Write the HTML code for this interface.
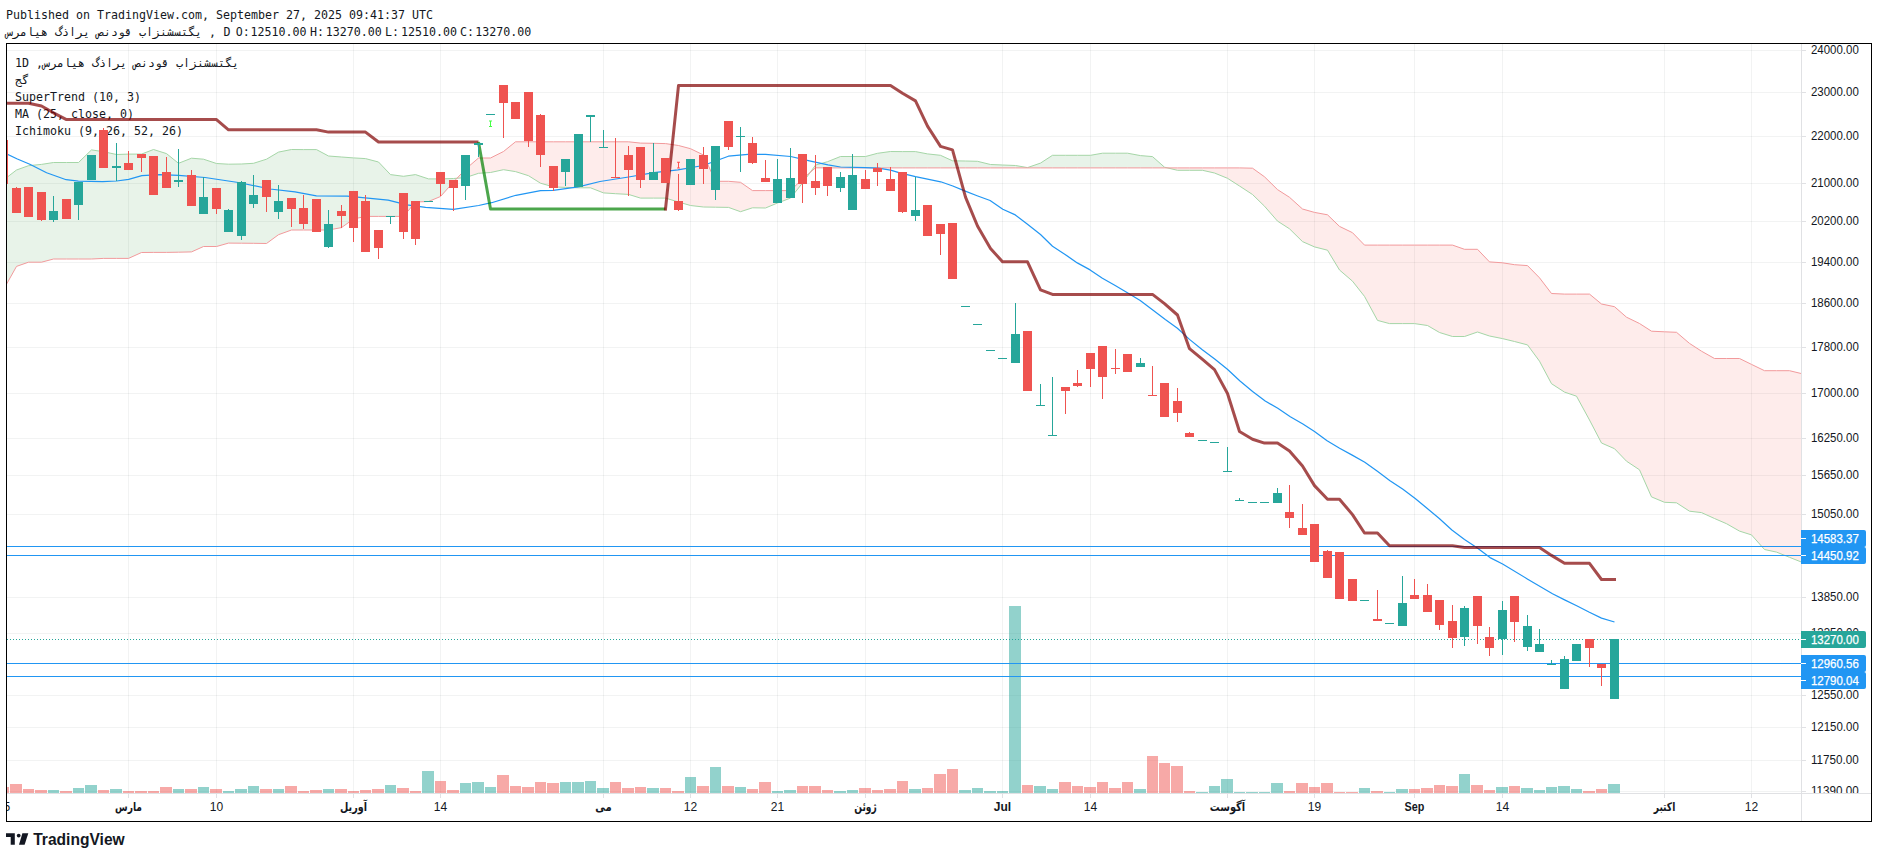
<!DOCTYPE html>
<html><head><meta charset="utf-8"><title>TradingView chart</title>
<style>
html,body{margin:0;padding:0;background:#fff;width:1878px;height:858px;overflow:hidden}
.l0,.l2{position:absolute;left:0;top:0}
.l0{z-index:0} .l2{z-index:2}
.mono{position:absolute;font-family:"DejaVu Sans Mono","Liberation Mono",monospace;font-size:11.63px;color:#131722;white-space:pre;line-height:17px;z-index:1;direction:ltr}
</style></head><body>
<div class="mono" style="left:6px;top:7px">Published on TradingView.com, September 27, 2025 09:41:37 UTC</div>
<div class="mono" style="left:6px;top:24px"><span dir="rtl">یگتسشنزاب قودنص یراذگ هیامرس</span> ,</div>
<div class="mono" style="left:223.5px;top:24px">D</div>
<div class="mono" style="left:235.7px;top:24px">O:</div><div class="mono" style="left:250.6px;top:24px">12510.00</div>
<div class="mono" style="left:310.1px;top:24px">H:</div><div class="mono" style="left:325.8px;top:24px">13270.00</div>
<div class="mono" style="left:384.9px;top:24px">L:</div><div class="mono" style="left:401px;top:24px">12510.00</div>
<div class="mono" style="left:460.1px;top:24px">C:</div><div class="mono" style="left:475.3px;top:24px">13270.00</div>
<svg class="l0" width="1878" height="858" shape-rendering="crispEdges"><rect x="7" y="50" width="1794" height="1" fill="rgba(42,46,57,0.06)"/><rect x="7" y="92" width="1794" height="1" fill="rgba(42,46,57,0.06)"/><rect x="7" y="136" width="1794" height="1" fill="rgba(42,46,57,0.06)"/><rect x="7" y="183" width="1794" height="1" fill="rgba(42,46,57,0.06)"/><rect x="7" y="221" width="1794" height="1" fill="rgba(42,46,57,0.06)"/><rect x="7" y="262" width="1794" height="1" fill="rgba(42,46,57,0.06)"/><rect x="7" y="303" width="1794" height="1" fill="rgba(42,46,57,0.06)"/><rect x="7" y="347" width="1794" height="1" fill="rgba(42,46,57,0.06)"/><rect x="7" y="393" width="1794" height="1" fill="rgba(42,46,57,0.06)"/><rect x="7" y="438" width="1794" height="1" fill="rgba(42,46,57,0.06)"/><rect x="7" y="475" width="1794" height="1" fill="rgba(42,46,57,0.06)"/><rect x="7" y="514" width="1794" height="1" fill="rgba(42,46,57,0.06)"/><rect x="7" y="555" width="1794" height="1" fill="rgba(42,46,57,0.06)"/><rect x="7" y="597" width="1794" height="1" fill="rgba(42,46,57,0.06)"/><rect x="7" y="633" width="1794" height="1" fill="rgba(42,46,57,0.06)"/><rect x="7" y="663" width="1794" height="1" fill="rgba(42,46,57,0.06)"/><rect x="7" y="695" width="1794" height="1" fill="rgba(42,46,57,0.06)"/><rect x="7" y="727" width="1794" height="1" fill="rgba(42,46,57,0.06)"/><rect x="7" y="760" width="1794" height="1" fill="rgba(42,46,57,0.06)"/><rect x="7" y="791" width="1794" height="1" fill="rgba(42,46,57,0.06)"/><rect x="128" y="44" width="1" height="749" fill="rgba(42,46,57,0.06)"/><rect x="216" y="44" width="1" height="749" fill="rgba(42,46,57,0.06)"/><rect x="353" y="44" width="1" height="749" fill="rgba(42,46,57,0.06)"/><rect x="440" y="44" width="1" height="749" fill="rgba(42,46,57,0.06)"/><rect x="603" y="44" width="1" height="749" fill="rgba(42,46,57,0.06)"/><rect x="690" y="44" width="1" height="749" fill="rgba(42,46,57,0.06)"/><rect x="777" y="44" width="1" height="749" fill="rgba(42,46,57,0.06)"/><rect x="865" y="44" width="1" height="749" fill="rgba(42,46,57,0.06)"/><rect x="1002" y="44" width="1" height="749" fill="rgba(42,46,57,0.06)"/><rect x="1090" y="44" width="1" height="749" fill="rgba(42,46,57,0.06)"/><rect x="1227" y="44" width="1" height="749" fill="rgba(42,46,57,0.06)"/><rect x="1314" y="44" width="1" height="749" fill="rgba(42,46,57,0.06)"/><rect x="1414" y="44" width="1" height="749" fill="rgba(42,46,57,0.06)"/><rect x="1502" y="44" width="1" height="749" fill="rgba(42,46,57,0.06)"/><rect x="1664" y="44" width="1" height="749" fill="rgba(42,46,57,0.06)"/><rect x="1751" y="44" width="1" height="749" fill="rgba(42,46,57,0.06)"/></svg>
<div class="mono" style="left:15px;top:55px">1D ,<span dir="rtl">یگتسشنزاب قودنص یراذگ هیامرس</span></div>
<div class="mono" style="left:15px;top:72px"><span dir="rtl">گج</span></div>
<div class="mono" style="left:15px;top:89px">SuperTrend (10, 3)</div>
<div class="mono" style="left:15px;top:106px">MA (25, close, 0)</div>
<div class="mono" style="left:15px;top:123px">Ichimoku (9, 26, 52, 26)</div>
<svg class="l2" width="1878" height="858"><defs><clipPath id="pane"><rect x="7" y="44" width="1794" height="749"/></clipPath><clipPath id="taxis"><rect x="7" y="794" width="1794" height="27"/></clipPath><clipPath id="paxis"><rect x="1802" y="44" width="69" height="749"/></clipPath></defs><g clip-path="url(#pane)"><path d="M3.50,180.00 L16.50,170.00 L16.50,266.40 L3.50,289.60ZM16.50,170.00 L28.50,165.70 L28.50,262.20 L16.50,266.40ZM28.50,165.70 L41.50,164.40 L41.50,262.20 L28.50,262.20ZM41.50,164.40 L53.50,162.50 L53.50,259.00 L41.50,262.20ZM53.50,162.50 L66.50,162.50 L66.50,259.00 L53.50,259.00ZM66.50,162.50 L78.50,162.50 L78.50,259.00 L66.50,259.00ZM78.50,162.50 L91.50,149.90 L91.50,259.00 L78.50,259.00ZM91.50,149.90 L103.50,151.70 L103.50,258.40 L91.50,259.00ZM103.50,151.70 L116.50,154.50 L116.50,258.40 L103.50,258.40ZM116.50,154.50 L128.50,154.10 L128.50,258.40 L116.50,258.40ZM128.50,154.10 L141.50,154.10 L141.50,252.50 L128.50,258.40ZM141.50,154.10 L153.50,149.50 L153.50,252.40 L141.50,252.50ZM153.50,149.50 L166.50,153.60 L166.50,252.40 L153.50,252.40ZM166.50,153.60 L178.50,163.30 L178.50,252.20 L166.50,252.40ZM178.50,163.30 L191.50,158.20 L191.50,251.90 L178.50,252.20ZM191.50,158.20 L203.50,159.20 L203.50,246.50 L191.50,251.90ZM203.50,159.20 L216.50,163.50 L216.50,246.50 L203.50,246.50ZM216.50,163.50 L228.50,164.20 L228.50,243.10 L216.50,246.50ZM228.50,164.20 L241.50,164.00 L241.50,243.20 L228.50,243.10ZM241.50,164.00 L253.50,163.30 L253.50,243.30 L241.50,243.20ZM253.50,163.30 L266.50,159.20 L266.50,243.50 L253.50,243.30ZM266.50,159.20 L278.50,152.10 L278.50,234.70 L266.50,243.50ZM278.50,152.10 L291.50,149.50 L291.50,230.00 L278.50,234.70ZM291.50,149.50 L303.50,149.60 L303.50,230.00 L291.50,230.00ZM303.50,149.60 L316.50,149.60 L316.50,230.00 L303.50,230.00ZM316.50,149.60 L328.50,156.00 L328.50,230.00 L316.50,230.00ZM328.50,156.00 L341.50,157.00 L341.50,227.60 L328.50,230.00ZM341.50,157.00 L353.50,157.90 L353.50,219.00 L341.50,227.60ZM353.50,157.90 L365.50,158.60 L365.50,216.40 L353.50,219.00ZM365.50,158.60 L378.50,162.00 L378.50,216.40 L365.50,216.40ZM378.50,162.00 L390.50,174.60 L390.50,216.40 L378.50,216.40ZM390.50,174.60 L403.50,176.30 L403.50,216.40 L390.50,216.40ZM403.50,176.30 L415.50,174.60 L415.50,202.00 L403.50,216.40ZM415.50,174.60 L428.50,178.90 L428.50,201.50 L415.50,202.00ZM428.50,178.90 L440.50,178.90 L440.50,196.50 L428.50,201.50ZM440.50,178.90 L453.50,178.50 L453.50,182.00 L440.50,196.50ZM453.50,178.50 L457.03,178.24 L453.50,182.00ZM810.26,172.31 L815.50,165.10 L815.50,167.80ZM815.50,165.10 L827.50,161.70 L827.50,167.90 L815.50,167.80ZM827.50,161.70 L840.50,156.50 L840.50,167.90 L827.50,167.90ZM840.50,156.50 L852.50,156.50 L852.50,167.90 L840.50,167.90ZM852.50,156.50 L865.50,156.50 L865.50,167.90 L852.50,167.90ZM865.50,156.50 L877.50,153.30 L877.50,167.90 L865.50,167.90ZM877.50,153.30 L890.50,151.50 L890.50,167.90 L877.50,167.90ZM890.50,151.50 L902.50,151.60 L902.50,167.90 L890.50,167.90ZM902.50,151.60 L915.50,151.60 L915.50,167.90 L902.50,167.90ZM915.50,151.60 L927.50,153.90 L927.50,167.90 L915.50,167.90ZM927.50,153.90 L940.50,155.30 L940.50,167.90 L927.50,167.90ZM940.50,155.30 L952.50,160.80 L952.50,167.90 L940.50,167.90ZM952.50,160.80 L965.50,161.00 L965.50,167.90 L952.50,167.90ZM965.50,161.00 L977.50,161.30 L977.50,167.90 L965.50,167.90ZM977.50,161.30 L990.50,164.50 L990.50,167.90 L977.50,167.90ZM990.50,164.50 L1002.50,165.00 L1002.50,167.90 L990.50,167.90ZM1002.50,165.00 L1015.50,165.50 L1015.50,167.90 L1002.50,167.90ZM1015.50,165.50 L1027.50,167.60 L1027.50,167.90 L1015.50,167.90ZM1027.50,167.60 L1040.50,163.10 L1040.50,167.90 L1027.50,167.90ZM1040.50,163.10 L1052.50,155.30 L1052.50,167.90 L1040.50,167.90ZM1052.50,155.30 L1065.50,155.30 L1065.50,167.90 L1052.50,167.90ZM1065.50,155.30 L1077.50,155.30 L1077.50,167.90 L1065.50,167.90ZM1077.50,155.30 L1090.50,155.30 L1090.50,167.90 L1077.50,167.90ZM1090.50,155.30 L1102.50,153.20 L1102.50,167.90 L1090.50,167.90ZM1102.50,153.20 L1115.50,153.20 L1115.50,167.90 L1102.50,167.90ZM1115.50,153.20 L1127.50,153.20 L1127.50,167.90 L1115.50,167.90ZM1127.50,153.20 L1140.50,155.60 L1140.50,167.90 L1127.50,167.90ZM1140.50,155.60 L1152.50,156.60 L1152.50,167.90 L1140.50,167.90ZM1152.50,156.60 L1164.50,167.20 L1164.50,167.90 L1152.50,167.90ZM1164.50,167.20 L1167.44,167.90 L1164.50,167.90Z" fill="rgba(67,160,71,0.12)" stroke="none"/><path d="M457.03,178.24 L465.50,177.60 L465.50,169.20ZM465.50,177.60 L478.50,173.30 L478.50,158.00 L465.50,169.20ZM478.50,173.30 L490.50,172.50 L490.50,158.00 L478.50,158.00ZM490.50,172.50 L503.50,169.70 L503.50,151.50 L490.50,158.00ZM503.50,169.70 L515.50,171.60 L515.50,141.80 L503.50,151.50ZM515.50,171.60 L528.50,175.70 L528.50,141.80 L515.50,141.80ZM528.50,175.70 L540.50,183.20 L540.50,141.80 L528.50,141.80ZM540.50,183.20 L553.50,186.90 L553.50,141.80 L540.50,141.80ZM553.50,186.90 L565.50,187.40 L565.50,141.80 L553.50,141.80ZM565.50,187.40 L578.50,187.80 L578.50,141.80 L565.50,141.80ZM578.50,187.80 L590.50,187.80 L590.50,141.80 L578.50,141.80ZM590.50,187.80 L603.50,192.90 L603.50,141.80 L590.50,141.80ZM603.50,192.90 L615.50,193.70 L615.50,141.80 L603.50,141.80ZM615.50,193.70 L628.50,194.40 L628.50,141.80 L615.50,141.80ZM628.50,194.40 L640.50,198.10 L640.50,143.10 L628.50,141.80ZM640.50,198.10 L653.50,198.10 L653.50,143.30 L640.50,143.10ZM653.50,198.10 L665.50,198.10 L665.50,143.60 L653.50,143.30ZM665.50,198.10 L678.50,202.00 L678.50,145.50 L665.50,143.60ZM678.50,202.00 L690.50,205.50 L690.50,148.70 L678.50,145.50ZM690.50,205.50 L703.50,207.00 L703.50,155.00 L690.50,148.70ZM703.50,207.00 L715.50,207.20 L715.50,181.30 L703.50,155.00ZM715.50,207.20 L728.50,207.40 L728.50,181.30 L715.50,181.30ZM728.50,207.40 L740.50,211.70 L740.50,182.30 L728.50,181.30ZM740.50,211.70 L752.50,207.80 L752.50,190.60 L740.50,182.30ZM752.50,207.80 L765.50,208.00 L765.50,190.60 L752.50,190.60ZM765.50,208.00 L777.50,203.00 L777.50,190.60 L765.50,190.60ZM777.50,203.00 L790.50,198.10 L790.50,190.60 L777.50,190.60ZM790.50,198.10 L802.50,183.00 L802.50,179.00 L790.50,190.60ZM802.50,183.00 L810.26,172.31 L802.50,179.00ZM1167.44,167.90 L1177.50,170.30 L1177.50,167.90ZM1177.50,170.30 L1189.50,170.30 L1189.50,167.90 L1177.50,167.90ZM1189.50,170.30 L1202.50,170.30 L1202.50,167.90 L1189.50,167.90ZM1202.50,170.30 L1214.50,173.00 L1214.50,167.90 L1202.50,167.90ZM1214.50,173.00 L1227.50,178.30 L1227.50,167.90 L1214.50,167.90ZM1227.50,178.30 L1239.50,186.00 L1239.50,167.90 L1227.50,167.90ZM1239.50,186.00 L1252.50,194.50 L1252.50,168.20 L1239.50,167.90ZM1252.50,194.50 L1264.50,206.20 L1264.50,176.80 L1252.50,168.20ZM1264.50,206.20 L1277.50,221.10 L1277.50,189.60 L1264.50,176.80ZM1277.50,221.10 L1289.50,228.80 L1289.50,197.30 L1277.50,189.60ZM1289.50,228.80 L1302.50,241.60 L1302.50,209.00 L1289.50,197.30ZM1302.50,241.60 L1314.50,246.90 L1314.50,212.40 L1302.50,209.00ZM1314.50,246.90 L1327.50,250.20 L1327.50,214.80 L1314.50,212.40ZM1327.50,250.20 L1339.50,270.00 L1339.50,226.40 L1327.50,214.80ZM1339.50,270.00 L1352.50,281.20 L1352.50,232.70 L1339.50,226.40ZM1352.50,281.20 L1364.50,296.40 L1364.50,245.10 L1352.50,232.70ZM1364.50,296.40 L1377.50,320.40 L1377.50,245.10 L1364.50,245.10ZM1377.50,320.40 L1389.50,323.60 L1389.50,245.10 L1377.50,245.10ZM1389.50,323.60 L1402.50,323.60 L1402.50,245.10 L1389.50,245.10ZM1402.50,323.60 L1414.50,323.60 L1414.50,245.10 L1402.50,245.10ZM1414.50,323.60 L1427.50,325.50 L1427.50,245.10 L1414.50,245.10ZM1427.50,325.50 L1439.50,332.50 L1439.50,245.10 L1427.50,245.10ZM1439.50,332.50 L1452.50,336.50 L1452.50,245.10 L1439.50,245.10ZM1452.50,336.50 L1464.50,336.50 L1464.50,249.30 L1452.50,245.10ZM1464.50,336.50 L1477.50,332.00 L1477.50,249.30 L1464.50,249.30ZM1477.50,332.00 L1489.50,336.00 L1489.50,261.90 L1477.50,249.30ZM1489.50,336.00 L1502.50,338.60 L1502.50,262.80 L1489.50,261.90ZM1502.50,338.60 L1514.50,341.50 L1514.50,264.70 L1502.50,262.80ZM1514.50,341.50 L1527.50,344.90 L1527.50,265.60 L1514.50,264.70ZM1527.50,344.90 L1539.50,361.20 L1539.50,277.80 L1527.50,265.60ZM1539.50,361.20 L1551.50,383.70 L1551.50,293.50 L1539.50,277.80ZM1551.50,383.70 L1564.50,392.10 L1564.50,294.10 L1551.50,293.50ZM1564.50,392.10 L1576.50,396.20 L1576.50,294.10 L1564.50,294.10ZM1576.50,396.20 L1589.50,420.00 L1589.50,294.10 L1576.50,294.10ZM1589.50,420.00 L1601.50,443.00 L1601.50,304.00 L1589.50,294.10ZM1601.50,443.00 L1614.50,448.70 L1614.50,306.70 L1601.50,304.00ZM1614.50,448.70 L1626.50,461.20 L1626.50,317.20 L1614.50,306.70ZM1626.50,461.20 L1639.50,469.80 L1639.50,323.50 L1626.50,317.20ZM1639.50,469.80 L1651.50,496.90 L1651.50,331.20 L1639.50,323.50ZM1651.50,496.90 L1664.50,502.30 L1664.50,331.80 L1651.50,331.20ZM1664.50,502.30 L1676.50,502.80 L1676.50,332.30 L1664.50,331.80ZM1676.50,502.80 L1689.50,511.20 L1689.50,343.40 L1676.50,332.30ZM1689.50,511.20 L1701.50,512.60 L1701.50,351.20 L1689.50,343.40ZM1701.50,512.60 L1714.50,518.50 L1714.50,358.50 L1701.50,351.20ZM1714.50,518.50 L1726.50,523.70 L1726.50,358.50 L1714.50,358.50ZM1726.50,523.70 L1739.50,531.10 L1739.50,358.50 L1726.50,358.50ZM1739.50,531.10 L1751.50,534.90 L1751.50,364.40 L1739.50,358.50ZM1751.50,534.90 L1764.50,549.50 L1764.50,370.70 L1751.50,364.40ZM1764.50,549.50 L1776.50,552.10 L1776.50,370.70 L1764.50,370.70ZM1776.50,552.10 L1789.50,557.30 L1789.50,370.70 L1776.50,370.70ZM1789.50,557.30 L1801.50,562.10 L1801.50,373.60 L1789.50,370.70Z" fill="rgba(244,67,54,0.1)" stroke="none"/><polyline points="3.50,180.00 16.50,170.00 28.50,165.70 41.50,164.40 53.50,162.50 66.50,162.50 78.50,162.50 91.50,149.90 103.50,151.70 116.50,154.50 128.50,154.10 141.50,154.10 153.50,149.50 166.50,153.60 178.50,163.30 191.50,158.20 203.50,159.20 216.50,163.50 228.50,164.20 241.50,164.00 253.50,163.30 266.50,159.20 278.50,152.10 291.50,149.50 303.50,149.60 316.50,149.60 328.50,156.00 341.50,157.00 353.50,157.90 365.50,158.60 378.50,162.00 390.50,174.60 403.50,176.30 415.50,174.60 428.50,178.90 440.50,178.90 453.50,178.50 465.50,177.60 478.50,173.30 490.50,172.50 503.50,169.70 515.50,171.60 528.50,175.70 540.50,183.20 553.50,186.90 565.50,187.40 578.50,187.80 590.50,187.80 603.50,192.90 615.50,193.70 628.50,194.40 640.50,198.10 653.50,198.10 665.50,198.10 678.50,202.00 690.50,205.50 703.50,207.00 715.50,207.20 728.50,207.40 740.50,211.70 752.50,207.80 765.50,208.00 777.50,203.00 790.50,198.10 802.50,183.00 815.50,165.10 827.50,161.70 840.50,156.50 852.50,156.50 865.50,156.50 877.50,153.30 890.50,151.50 902.50,151.60 915.50,151.60 927.50,153.90 940.50,155.30 952.50,160.80 965.50,161.00 977.50,161.30 990.50,164.50 1002.50,165.00 1015.50,165.50 1027.50,167.60 1040.50,163.10 1052.50,155.30 1065.50,155.30 1077.50,155.30 1090.50,155.30 1102.50,153.20 1115.50,153.20 1127.50,153.20 1140.50,155.60 1152.50,156.60 1164.50,167.20 1177.50,170.30 1189.50,170.30 1202.50,170.30 1214.50,173.00 1227.50,178.30 1239.50,186.00 1252.50,194.50 1264.50,206.20 1277.50,221.10 1289.50,228.80 1302.50,241.60 1314.50,246.90 1327.50,250.20 1339.50,270.00 1352.50,281.20 1364.50,296.40 1377.50,320.40 1389.50,323.60 1402.50,323.60 1414.50,323.60 1427.50,325.50 1439.50,332.50 1452.50,336.50 1464.50,336.50 1477.50,332.00 1489.50,336.00 1502.50,338.60 1514.50,341.50 1527.50,344.90 1539.50,361.20 1551.50,383.70 1564.50,392.10 1576.50,396.20 1589.50,420.00 1601.50,443.00 1614.50,448.70 1626.50,461.20 1639.50,469.80 1651.50,496.90 1664.50,502.30 1676.50,502.80 1689.50,511.20 1701.50,512.60 1714.50,518.50 1726.50,523.70 1739.50,531.10 1751.50,534.90 1764.50,549.50 1776.50,552.10 1789.50,557.30 1801.50,562.10" fill="none" stroke="#a5d6a7" stroke-width="1"/><polyline points="3.50,289.60 16.50,266.40 28.50,262.20 41.50,262.20 53.50,259.00 66.50,259.00 78.50,259.00 91.50,259.00 103.50,258.40 116.50,258.40 128.50,258.40 141.50,252.50 153.50,252.40 166.50,252.40 178.50,252.20 191.50,251.90 203.50,246.50 216.50,246.50 228.50,243.10 241.50,243.20 253.50,243.30 266.50,243.50 278.50,234.70 291.50,230.00 303.50,230.00 316.50,230.00 328.50,230.00 341.50,227.60 353.50,219.00 365.50,216.40 378.50,216.40 390.50,216.40 403.50,216.40 415.50,202.00 428.50,201.50 440.50,196.50 453.50,182.00 465.50,169.20 478.50,158.00 490.50,158.00 503.50,151.50 515.50,141.80 528.50,141.80 540.50,141.80 553.50,141.80 565.50,141.80 578.50,141.80 590.50,141.80 603.50,141.80 615.50,141.80 628.50,141.80 640.50,143.10 653.50,143.30 665.50,143.60 678.50,145.50 690.50,148.70 703.50,155.00 715.50,181.30 728.50,181.30 740.50,182.30 752.50,190.60 765.50,190.60 777.50,190.60 790.50,190.60 802.50,179.00 815.50,167.80 827.50,167.90 840.50,167.90 852.50,167.90 865.50,167.90 877.50,167.90 890.50,167.90 902.50,167.90 915.50,167.90 927.50,167.90 940.50,167.90 952.50,167.90 965.50,167.90 977.50,167.90 990.50,167.90 1002.50,167.90 1015.50,167.90 1027.50,167.90 1040.50,167.90 1052.50,167.90 1065.50,167.90 1077.50,167.90 1090.50,167.90 1102.50,167.90 1115.50,167.90 1127.50,167.90 1140.50,167.90 1152.50,167.90 1164.50,167.90 1177.50,167.90 1189.50,167.90 1202.50,167.90 1214.50,167.90 1227.50,167.90 1239.50,167.90 1252.50,168.20 1264.50,176.80 1277.50,189.60 1289.50,197.30 1302.50,209.00 1314.50,212.40 1327.50,214.80 1339.50,226.40 1352.50,232.70 1364.50,245.10 1377.50,245.10 1389.50,245.10 1402.50,245.10 1414.50,245.10 1427.50,245.10 1439.50,245.10 1452.50,245.10 1464.50,249.30 1477.50,249.30 1489.50,261.90 1502.50,262.80 1514.50,264.70 1527.50,265.60 1539.50,277.80 1551.50,293.50 1564.50,294.10 1576.50,294.10 1589.50,294.10 1601.50,304.00 1614.50,306.70 1626.50,317.20 1639.50,323.50 1651.50,331.20 1664.50,331.80 1676.50,332.30 1689.50,343.40 1701.50,351.20 1714.50,358.50 1726.50,358.50 1739.50,358.50 1751.50,364.40 1764.50,370.70 1776.50,370.70 1789.50,370.70 1801.50,373.60" fill="none" stroke="#f29a9c" stroke-width="1"/><rect x="-2" y="787" width="11" height="6" fill="rgba(239,83,80,0.5)" shape-rendering="crispEdges"/><rect x="10" y="784" width="12" height="9" fill="rgba(239,83,80,0.5)" shape-rendering="crispEdges"/><rect x="23" y="789" width="11" height="4" fill="rgba(239,83,80,0.5)" shape-rendering="crispEdges"/><rect x="35" y="790" width="12" height="3" fill="rgba(239,83,80,0.5)" shape-rendering="crispEdges"/><rect x="48" y="790" width="11" height="3" fill="rgba(38,166,154,0.5)" shape-rendering="crispEdges"/><rect x="60" y="791" width="12" height="2" fill="rgba(239,83,80,0.5)" shape-rendering="crispEdges"/><rect x="73" y="788" width="11" height="5" fill="rgba(38,166,154,0.5)" shape-rendering="crispEdges"/><rect x="85" y="785" width="12" height="8" fill="rgba(38,166,154,0.5)" shape-rendering="crispEdges"/><rect x="98" y="790" width="11" height="3" fill="rgba(239,83,80,0.5)" shape-rendering="crispEdges"/><rect x="110" y="789" width="12" height="4" fill="rgba(38,166,154,0.5)" shape-rendering="crispEdges"/><rect x="123" y="791" width="11" height="2" fill="rgba(239,83,80,0.5)" shape-rendering="crispEdges"/><rect x="135" y="791" width="12" height="2" fill="rgba(239,83,80,0.5)" shape-rendering="crispEdges"/><rect x="148" y="791" width="11" height="2" fill="rgba(239,83,80,0.5)" shape-rendering="crispEdges"/><rect x="160" y="787" width="12" height="6" fill="rgba(239,83,80,0.5)" shape-rendering="crispEdges"/><rect x="173" y="789" width="11" height="4" fill="rgba(38,166,154,0.5)" shape-rendering="crispEdges"/><rect x="185" y="789" width="12" height="4" fill="rgba(239,83,80,0.5)" shape-rendering="crispEdges"/><rect x="198" y="787" width="11" height="6" fill="rgba(38,166,154,0.5)" shape-rendering="crispEdges"/><rect x="210" y="789" width="12" height="4" fill="rgba(239,83,80,0.5)" shape-rendering="crispEdges"/><rect x="223" y="791" width="11" height="2" fill="rgba(38,166,154,0.5)" shape-rendering="crispEdges"/><rect x="235" y="789" width="12" height="4" fill="rgba(38,166,154,0.5)" shape-rendering="crispEdges"/><rect x="248" y="786" width="11" height="7" fill="rgba(38,166,154,0.5)" shape-rendering="crispEdges"/><rect x="260" y="789" width="12" height="4" fill="rgba(239,83,80,0.5)" shape-rendering="crispEdges"/><rect x="273" y="789" width="11" height="4" fill="rgba(38,166,154,0.5)" shape-rendering="crispEdges"/><rect x="285" y="786" width="12" height="7" fill="rgba(239,83,80,0.5)" shape-rendering="crispEdges"/><rect x="298" y="791" width="11" height="2" fill="rgba(239,83,80,0.5)" shape-rendering="crispEdges"/><rect x="310" y="790" width="12" height="3" fill="rgba(239,83,80,0.5)" shape-rendering="crispEdges"/><rect x="323" y="789" width="11" height="4" fill="rgba(38,166,154,0.5)" shape-rendering="crispEdges"/><rect x="335" y="789" width="12" height="4" fill="rgba(239,83,80,0.5)" shape-rendering="crispEdges"/><rect x="348" y="791" width="11" height="2" fill="rgba(239,83,80,0.5)" shape-rendering="crispEdges"/><rect x="360" y="790" width="11" height="3" fill="rgba(239,83,80,0.5)" shape-rendering="crispEdges"/><rect x="372" y="789" width="12" height="4" fill="rgba(239,83,80,0.5)" shape-rendering="crispEdges"/><rect x="385" y="785" width="11" height="8" fill="rgba(38,166,154,0.5)" shape-rendering="crispEdges"/><rect x="397" y="788" width="12" height="5" fill="rgba(239,83,80,0.5)" shape-rendering="crispEdges"/><rect x="410" y="791" width="11" height="2" fill="rgba(239,83,80,0.5)" shape-rendering="crispEdges"/><rect x="422" y="771" width="12" height="22" fill="rgba(38,166,154,0.5)" shape-rendering="crispEdges"/><rect x="435" y="781" width="11" height="12" fill="rgba(239,83,80,0.5)" shape-rendering="crispEdges"/><rect x="447" y="790" width="12" height="3" fill="rgba(239,83,80,0.5)" shape-rendering="crispEdges"/><rect x="460" y="783" width="11" height="10" fill="rgba(38,166,154,0.5)" shape-rendering="crispEdges"/><rect x="472" y="782" width="12" height="11" fill="rgba(38,166,154,0.5)" shape-rendering="crispEdges"/><rect x="485" y="787" width="11" height="6" fill="rgba(38,166,154,0.5)" shape-rendering="crispEdges"/><rect x="497" y="775" width="12" height="18" fill="rgba(239,83,80,0.5)" shape-rendering="crispEdges"/><rect x="510" y="786" width="11" height="7" fill="rgba(239,83,80,0.5)" shape-rendering="crispEdges"/><rect x="522" y="787" width="12" height="6" fill="rgba(239,83,80,0.5)" shape-rendering="crispEdges"/><rect x="535" y="782" width="11" height="11" fill="rgba(239,83,80,0.5)" shape-rendering="crispEdges"/><rect x="547" y="783" width="12" height="10" fill="rgba(239,83,80,0.5)" shape-rendering="crispEdges"/><rect x="560" y="782" width="11" height="11" fill="rgba(38,166,154,0.5)" shape-rendering="crispEdges"/><rect x="572" y="782" width="12" height="11" fill="rgba(38,166,154,0.5)" shape-rendering="crispEdges"/><rect x="585" y="781" width="11" height="12" fill="rgba(38,166,154,0.5)" shape-rendering="crispEdges"/><rect x="597" y="788" width="12" height="5" fill="rgba(38,166,154,0.5)" shape-rendering="crispEdges"/><rect x="610" y="782" width="11" height="11" fill="rgba(239,83,80,0.5)" shape-rendering="crispEdges"/><rect x="622" y="788" width="12" height="5" fill="rgba(239,83,80,0.5)" shape-rendering="crispEdges"/><rect x="635" y="787" width="11" height="6" fill="rgba(239,83,80,0.5)" shape-rendering="crispEdges"/><rect x="647" y="788" width="12" height="5" fill="rgba(38,166,154,0.5)" shape-rendering="crispEdges"/><rect x="660" y="788" width="11" height="5" fill="rgba(239,83,80,0.5)" shape-rendering="crispEdges"/><rect x="672" y="791" width="12" height="2" fill="rgba(239,83,80,0.5)" shape-rendering="crispEdges"/><rect x="685" y="777" width="11" height="16" fill="rgba(38,166,154,0.5)" shape-rendering="crispEdges"/><rect x="697" y="786" width="12" height="7" fill="rgba(239,83,80,0.5)" shape-rendering="crispEdges"/><rect x="710" y="767" width="11" height="26" fill="rgba(38,166,154,0.5)" shape-rendering="crispEdges"/><rect x="722" y="786" width="12" height="7" fill="rgba(239,83,80,0.5)" shape-rendering="crispEdges"/><rect x="735" y="787" width="11" height="6" fill="rgba(38,166,154,0.5)" shape-rendering="crispEdges"/><rect x="747" y="789" width="11" height="4" fill="rgba(239,83,80,0.5)" shape-rendering="crispEdges"/><rect x="759" y="782" width="12" height="11" fill="rgba(239,83,80,0.5)" shape-rendering="crispEdges"/><rect x="772" y="791" width="11" height="2" fill="rgba(38,166,154,0.5)" shape-rendering="crispEdges"/><rect x="784" y="790" width="12" height="3" fill="rgba(38,166,154,0.5)" shape-rendering="crispEdges"/><rect x="797" y="786" width="11" height="7" fill="rgba(239,83,80,0.5)" shape-rendering="crispEdges"/><rect x="809" y="786" width="12" height="7" fill="rgba(239,83,80,0.5)" shape-rendering="crispEdges"/><rect x="822" y="790" width="11" height="3" fill="rgba(239,83,80,0.5)" shape-rendering="crispEdges"/><rect x="834" y="791" width="12" height="2" fill="rgba(38,166,154,0.5)" shape-rendering="crispEdges"/><rect x="847" y="790" width="11" height="3" fill="rgba(38,166,154,0.5)" shape-rendering="crispEdges"/><rect x="859" y="788" width="12" height="5" fill="rgba(239,83,80,0.5)" shape-rendering="crispEdges"/><rect x="872" y="790" width="11" height="3" fill="rgba(239,83,80,0.5)" shape-rendering="crispEdges"/><rect x="884" y="789" width="12" height="4" fill="rgba(239,83,80,0.5)" shape-rendering="crispEdges"/><rect x="897" y="781" width="11" height="12" fill="rgba(239,83,80,0.5)" shape-rendering="crispEdges"/><rect x="909" y="789" width="12" height="4" fill="rgba(38,166,154,0.5)" shape-rendering="crispEdges"/><rect x="922" y="788" width="11" height="5" fill="rgba(239,83,80,0.5)" shape-rendering="crispEdges"/><rect x="934" y="774" width="12" height="19" fill="rgba(239,83,80,0.5)" shape-rendering="crispEdges"/><rect x="947" y="769" width="11" height="24" fill="rgba(239,83,80,0.5)" shape-rendering="crispEdges"/><rect x="959" y="790" width="12" height="3" fill="rgba(38,166,154,0.5)" shape-rendering="crispEdges"/><rect x="972" y="788" width="11" height="5" fill="rgba(38,166,154,0.5)" shape-rendering="crispEdges"/><rect x="984" y="791" width="12" height="2" fill="rgba(38,166,154,0.5)" shape-rendering="crispEdges"/><rect x="997" y="791" width="11" height="2" fill="rgba(38,166,154,0.5)" shape-rendering="crispEdges"/><rect x="1009" y="606" width="12" height="187" fill="rgba(38,166,154,0.5)" shape-rendering="crispEdges"/><rect x="1022" y="785" width="11" height="8" fill="rgba(239,83,80,0.5)" shape-rendering="crispEdges"/><rect x="1034" y="786" width="12" height="7" fill="rgba(38,166,154,0.5)" shape-rendering="crispEdges"/><rect x="1047" y="789" width="11" height="4" fill="rgba(38,166,154,0.5)" shape-rendering="crispEdges"/><rect x="1059" y="782" width="12" height="11" fill="rgba(239,83,80,0.5)" shape-rendering="crispEdges"/><rect x="1072" y="786" width="11" height="7" fill="rgba(239,83,80,0.5)" shape-rendering="crispEdges"/><rect x="1084" y="787" width="12" height="6" fill="rgba(239,83,80,0.5)" shape-rendering="crispEdges"/><rect x="1097" y="782" width="11" height="11" fill="rgba(239,83,80,0.5)" shape-rendering="crispEdges"/><rect x="1109" y="788" width="12" height="5" fill="rgba(239,83,80,0.5)" shape-rendering="crispEdges"/><rect x="1122" y="782" width="11" height="11" fill="rgba(239,83,80,0.5)" shape-rendering="crispEdges"/><rect x="1134" y="789" width="12" height="4" fill="rgba(38,166,154,0.5)" shape-rendering="crispEdges"/><rect x="1147" y="756" width="11" height="37" fill="rgba(239,83,80,0.5)" shape-rendering="crispEdges"/><rect x="1159" y="763" width="11" height="30" fill="rgba(239,83,80,0.5)" shape-rendering="crispEdges"/><rect x="1171" y="766" width="12" height="27" fill="rgba(239,83,80,0.5)" shape-rendering="crispEdges"/><rect x="1184" y="791" width="11" height="2" fill="rgba(239,83,80,0.5)" shape-rendering="crispEdges"/><rect x="1196" y="792" width="12" height="1" fill="rgba(38,166,154,0.5)" shape-rendering="crispEdges"/><rect x="1209" y="786" width="11" height="7" fill="rgba(38,166,154,0.5)" shape-rendering="crispEdges"/><rect x="1221" y="779" width="12" height="14" fill="rgba(38,166,154,0.5)" shape-rendering="crispEdges"/><rect x="1234" y="792" width="11" height="1" fill="rgba(38,166,154,0.5)" shape-rendering="crispEdges"/><rect x="1246" y="792" width="12" height="1" fill="rgba(38,166,154,0.5)" shape-rendering="crispEdges"/><rect x="1259" y="792" width="11" height="1" fill="rgba(38,166,154,0.5)" shape-rendering="crispEdges"/><rect x="1271" y="783" width="12" height="10" fill="rgba(38,166,154,0.5)" shape-rendering="crispEdges"/><rect x="1284" y="791" width="11" height="2" fill="rgba(239,83,80,0.5)" shape-rendering="crispEdges"/><rect x="1296" y="783" width="12" height="10" fill="rgba(239,83,80,0.5)" shape-rendering="crispEdges"/><rect x="1309" y="787" width="11" height="6" fill="rgba(239,83,80,0.5)" shape-rendering="crispEdges"/><rect x="1321" y="783" width="12" height="10" fill="rgba(239,83,80,0.5)" shape-rendering="crispEdges"/><rect x="1334" y="792" width="11" height="1" fill="rgba(239,83,80,0.5)" shape-rendering="crispEdges"/><rect x="1346" y="792" width="12" height="1" fill="rgba(239,83,80,0.5)" shape-rendering="crispEdges"/><rect x="1359" y="788" width="11" height="5" fill="rgba(38,166,154,0.5)" shape-rendering="crispEdges"/><rect x="1371" y="791" width="12" height="2" fill="rgba(239,83,80,0.5)" shape-rendering="crispEdges"/><rect x="1384" y="792" width="11" height="1" fill="rgba(38,166,154,0.5)" shape-rendering="crispEdges"/><rect x="1396" y="789" width="12" height="4" fill="rgba(38,166,154,0.5)" shape-rendering="crispEdges"/><rect x="1409" y="789" width="11" height="4" fill="rgba(239,83,80,0.5)" shape-rendering="crispEdges"/><rect x="1421" y="788" width="12" height="5" fill="rgba(239,83,80,0.5)" shape-rendering="crispEdges"/><rect x="1434" y="785" width="11" height="8" fill="rgba(239,83,80,0.5)" shape-rendering="crispEdges"/><rect x="1446" y="786" width="12" height="7" fill="rgba(239,83,80,0.5)" shape-rendering="crispEdges"/><rect x="1459" y="774" width="11" height="19" fill="rgba(38,166,154,0.5)" shape-rendering="crispEdges"/><rect x="1471" y="785" width="12" height="8" fill="rgba(239,83,80,0.5)" shape-rendering="crispEdges"/><rect x="1484" y="790" width="11" height="3" fill="rgba(239,83,80,0.5)" shape-rendering="crispEdges"/><rect x="1496" y="787" width="12" height="6" fill="rgba(38,166,154,0.5)" shape-rendering="crispEdges"/><rect x="1509" y="786" width="11" height="7" fill="rgba(239,83,80,0.5)" shape-rendering="crispEdges"/><rect x="1521" y="788" width="12" height="5" fill="rgba(38,166,154,0.5)" shape-rendering="crispEdges"/><rect x="1534" y="790" width="11" height="3" fill="rgba(38,166,154,0.5)" shape-rendering="crispEdges"/><rect x="1546" y="787" width="11" height="6" fill="rgba(38,166,154,0.5)" shape-rendering="crispEdges"/><rect x="1558" y="786" width="12" height="7" fill="rgba(38,166,154,0.5)" shape-rendering="crispEdges"/><rect x="1571" y="789" width="11" height="4" fill="rgba(38,166,154,0.5)" shape-rendering="crispEdges"/><rect x="1583" y="791" width="12" height="2" fill="rgba(239,83,80,0.5)" shape-rendering="crispEdges"/><rect x="1596" y="789" width="11" height="4" fill="rgba(239,83,80,0.5)" shape-rendering="crispEdges"/><rect x="1608" y="784" width="12" height="9" fill="rgba(38,166,154,0.5)" shape-rendering="crispEdges"/><rect x="7" y="546" width="1794" height="1" fill="#2196f3" shape-rendering="crispEdges"/><rect x="7" y="555" width="1794" height="1" fill="#2196f3" shape-rendering="crispEdges"/><rect x="7" y="663" width="1794" height="1" fill="#2196f3" shape-rendering="crispEdges"/><rect x="7" y="676" width="1794" height="1" fill="#2196f3" shape-rendering="crispEdges"/><line x1="7" y1="639.5" x2="1801" y2="639.5" stroke="#26a69a" stroke-width="1" stroke-dasharray="1 2" shape-rendering="crispEdges"/><polyline points="7.00,154.00 16.80,158.80 29.80,164.30 46.60,172.80 66.20,179.70 78.40,181.20 102.60,181.60 116.60,181.00 128.70,179.30 141.80,175.60 160.00,174.70 178.60,175.40 205.00,177.50 238.30,182.50 270.00,189.00 295.00,191.80 316.40,195.90 347.20,196.10 388.20,200.20 407.00,204.90 425.60,207.30 453.40,209.30 478.60,205.50 491.60,202.70 515.90,195.30 540.50,190.60 553.20,190.30 578.30,186.90 600.00,181.50 628.60,177.00 653.80,172.60 678.00,169.80 703.20,165.50 728.40,156.20 748.00,154.30 765.50,154.30 790.70,156.50 809.40,160.80 828.00,164.90 840.50,167.00 865.30,167.70 878.40,168.20 890.50,170.10 899.80,172.90 915.50,176.60 940.70,181.80 952.80,186.00 964.00,190.60 977.10,195.70 990.10,200.50 1002.80,209.30 1015.30,214.90 1027.50,224.20 1040.50,234.50 1052.50,246.20 1065.10,254.40 1077.30,262.90 1090.10,269.90 1102.40,278.30 1115.20,285.60 1127.40,292.80 1140.20,300.40 1153.10,310.30 1165.30,319.50 1177.40,328.20 1189.50,339.40 1202.00,349.50 1214.70,359.00 1227.40,369.30 1240.00,381.00 1252.60,391.50 1265.20,401.00 1277.80,408.30 1290.30,416.70 1302.90,424.10 1314.50,431.40 1327.10,440.80 1339.60,448.20 1352.20,455.10 1364.80,462.20 1377.40,471.30 1390.00,480.70 1402.60,489.10 1415.20,498.50 1426.70,508.00 1439.30,518.50 1451.90,530.00 1464.50,539.40 1477.00,547.80 1490.00,557.60 1502.60,564.00 1527.30,578.90 1552.50,593.80 1564.60,599.90 1577.20,606.00 1588.90,612.00 1601.50,618.10 1614.50,622.00" fill="none" stroke="#2196f3" stroke-width="1.2" stroke-linejoin="round"/><polyline points="3.50,103.20 16.50,103.20 28.50,103.20 41.50,106.00 53.50,112.80 66.50,119.60 78.50,119.60 91.50,119.60 103.50,119.60 116.50,119.60 128.50,119.60 141.50,119.60 153.50,119.60 166.50,119.60 178.50,119.60 191.50,119.60 203.50,119.60 216.50,119.60 228.50,129.80 241.50,129.80 253.50,129.80 266.50,129.80 278.50,129.80 291.50,129.80 303.50,129.80 316.50,129.80 328.50,132.10 341.50,132.10 353.50,132.10 365.50,132.10 378.50,142.00 390.50,142.00 403.50,142.00 415.50,142.00 428.50,142.00 440.50,142.00 453.50,142.00 465.50,142.00 478.50,142.00" fill="none" stroke="#800000" stroke-opacity="0.7" stroke-width="3" stroke-linejoin="round"/><polyline points="478.50,142.00 490.50,209.00 503.50,209.00 515.50,209.00 528.50,209.00 540.50,209.00 553.50,209.00 565.50,209.00 578.50,209.00 590.50,209.00 603.50,209.00 615.50,209.00 628.50,209.00 640.50,209.00 653.50,209.00 665.50,209.00" fill="none" stroke="#008000" stroke-opacity="0.7" stroke-width="3" stroke-linejoin="round"/><polyline points="665.50,209.00 678.50,85.60 690.50,85.60 703.50,85.60 715.50,85.60 728.50,85.60 740.50,85.60 752.50,85.60 765.50,85.60 777.50,85.60 790.50,85.60 802.50,85.60 815.50,85.60 827.50,85.60 840.50,85.60 852.50,85.60 865.50,85.60 877.50,85.60 890.50,85.60 902.50,93.30 915.50,100.90 927.50,126.10 940.50,146.40 952.50,149.90 965.50,197.10 977.50,226.00 990.50,248.40 1002.50,261.80 1015.50,261.80 1027.50,261.80 1040.50,289.90 1052.50,294.40 1065.50,294.40 1077.50,294.40 1090.50,294.40 1102.50,294.40 1115.50,294.40 1127.50,294.40 1140.50,294.40 1152.50,294.40 1164.50,303.60 1177.50,315.00 1189.50,348.70 1202.50,359.40 1214.50,369.60 1227.50,393.50 1239.50,431.50 1252.50,439.20 1264.50,443.10 1277.50,443.10 1289.50,451.00 1302.50,466.00 1314.50,485.60 1327.50,499.20 1339.50,499.20 1352.50,514.60 1364.50,533.00 1377.50,533.00 1389.50,545.80 1402.50,545.80 1414.50,545.80 1427.50,545.80 1439.50,545.80 1452.50,545.80 1464.50,547.60 1477.50,547.60 1489.50,547.60 1502.50,547.60 1514.50,547.60 1527.50,547.60 1539.50,547.60 1551.50,555.40 1564.50,563.30 1576.50,563.30 1589.50,563.30 1601.50,579.50 1614.50,579.50" fill="none" stroke="#800000" stroke-opacity="0.7" stroke-width="3" stroke-linejoin="round" stroke-linecap="square"/><g shape-rendering="crispEdges"><rect x="-1" y="140" width="9" height="44" fill="#ef5350"/><rect x="16" y="187" width="1" height="26" fill="#ef5350"/><rect x="12" y="188" width="9" height="25" fill="#ef5350"/><rect x="24" y="187" width="9" height="30" fill="#ef5350"/><rect x="41" y="192" width="1" height="29" fill="#ef5350"/><rect x="37" y="192" width="9" height="28" fill="#ef5350"/><rect x="53" y="196" width="1" height="26" fill="#26a69a"/><rect x="49" y="211" width="9" height="9" fill="#26a69a"/><rect x="62" y="199" width="9" height="20" fill="#ef5350"/><rect x="78" y="182" width="1" height="38" fill="#26a69a"/><rect x="74" y="182" width="9" height="23" fill="#26a69a"/><rect x="87" y="155" width="9" height="25" fill="#26a69a"/><rect x="103" y="128" width="1" height="40" fill="#ef5350"/><rect x="99" y="130" width="9" height="38" fill="#ef5350"/><rect x="116" y="143" width="1" height="38" fill="#26a69a"/><rect x="112" y="166" width="9" height="2" fill="#26a69a"/><rect x="128" y="151" width="1" height="19" fill="#ef5350"/><rect x="124" y="163" width="9" height="7" fill="#ef5350"/><rect x="141" y="154" width="1" height="18" fill="#ef5350"/><rect x="137" y="154" width="9" height="4" fill="#ef5350"/><rect x="149" y="156" width="9" height="39" fill="#ef5350"/><rect x="166" y="157" width="1" height="31" fill="#ef5350"/><rect x="162" y="172" width="9" height="16" fill="#ef5350"/><rect x="178" y="149" width="1" height="38" fill="#26a69a"/><rect x="174" y="180" width="9" height="2" fill="#26a69a"/><rect x="191" y="170" width="1" height="36" fill="#ef5350"/><rect x="187" y="175" width="9" height="31" fill="#ef5350"/><rect x="203" y="177" width="1" height="37" fill="#26a69a"/><rect x="199" y="197" width="9" height="17" fill="#26a69a"/><rect x="216" y="188" width="1" height="26" fill="#ef5350"/><rect x="212" y="188" width="9" height="21" fill="#ef5350"/><rect x="228" y="209" width="1" height="23" fill="#26a69a"/><rect x="224" y="210" width="9" height="22" fill="#26a69a"/><rect x="241" y="181" width="1" height="59" fill="#26a69a"/><rect x="237" y="182" width="9" height="54" fill="#26a69a"/><rect x="253" y="175" width="1" height="33" fill="#26a69a"/><rect x="249" y="195" width="9" height="9" fill="#26a69a"/><rect x="266" y="180" width="1" height="32" fill="#ef5350"/><rect x="262" y="180" width="9" height="17" fill="#ef5350"/><rect x="278" y="185" width="1" height="34" fill="#26a69a"/><rect x="274" y="201" width="9" height="11" fill="#26a69a"/><rect x="291" y="198" width="1" height="29" fill="#ef5350"/><rect x="287" y="198" width="9" height="11" fill="#ef5350"/><rect x="303" y="195" width="1" height="34" fill="#ef5350"/><rect x="299" y="208" width="9" height="16" fill="#ef5350"/><rect x="312" y="199" width="9" height="33" fill="#ef5350"/><rect x="328" y="210" width="1" height="38" fill="#26a69a"/><rect x="324" y="224" width="9" height="23" fill="#26a69a"/><rect x="341" y="205" width="1" height="23" fill="#ef5350"/><rect x="337" y="211" width="9" height="5" fill="#ef5350"/><rect x="353" y="191" width="1" height="51" fill="#ef5350"/><rect x="349" y="191" width="9" height="37" fill="#ef5350"/><rect x="365" y="195" width="1" height="57" fill="#ef5350"/><rect x="361" y="201" width="9" height="51" fill="#ef5350"/><rect x="378" y="230" width="1" height="29" fill="#ef5350"/><rect x="374" y="230" width="9" height="18" fill="#ef5350"/><rect x="390" y="216" width="1" height="8" fill="#26a69a"/><rect x="386" y="216" width="9" height="1" fill="#26a69a"/><rect x="403" y="193" width="1" height="46" fill="#ef5350"/><rect x="399" y="193" width="9" height="39" fill="#ef5350"/><rect x="415" y="201" width="1" height="44" fill="#ef5350"/><rect x="411" y="201" width="9" height="38" fill="#ef5350"/><rect x="424" y="201" width="9" height="1" fill="#26a69a"/><rect x="440" y="172" width="1" height="24" fill="#ef5350"/><rect x="436" y="172" width="9" height="12" fill="#ef5350"/><rect x="453" y="180" width="1" height="31" fill="#ef5350"/><rect x="449" y="180" width="9" height="8" fill="#ef5350"/><rect x="465" y="155" width="1" height="45" fill="#26a69a"/><rect x="461" y="155" width="9" height="31" fill="#26a69a"/><rect x="478" y="143" width="1" height="14" fill="#26a69a"/><rect x="474" y="143" width="9" height="2" fill="#26a69a"/><rect x="486" y="114" width="9" height="1" fill="#26a69a"/><rect x="503" y="85" width="1" height="53" fill="#ef5350"/><rect x="499" y="85" width="9" height="18" fill="#ef5350"/><rect x="511" y="102" width="9" height="17" fill="#ef5350"/><rect x="528" y="92" width="1" height="55" fill="#ef5350"/><rect x="524" y="92" width="9" height="49" fill="#ef5350"/><rect x="540" y="114" width="1" height="53" fill="#ef5350"/><rect x="536" y="115" width="9" height="40" fill="#ef5350"/><rect x="553" y="166" width="1" height="25" fill="#ef5350"/><rect x="549" y="166" width="9" height="22" fill="#ef5350"/><rect x="565" y="159" width="1" height="27" fill="#26a69a"/><rect x="561" y="159" width="9" height="13" fill="#26a69a"/><rect x="574" y="134" width="9" height="53" fill="#26a69a"/><rect x="590" y="115" width="1" height="27" fill="#26a69a"/><rect x="586" y="115" width="9" height="2" fill="#26a69a"/><rect x="603" y="130" width="1" height="18" fill="#26a69a"/><rect x="599" y="147" width="9" height="1" fill="#26a69a"/><rect x="615" y="138" width="1" height="40" fill="#ef5350"/><rect x="611" y="177" width="9" height="1" fill="#ef5350"/><rect x="628" y="146" width="1" height="50" fill="#ef5350"/><rect x="624" y="155" width="9" height="15" fill="#ef5350"/><rect x="640" y="147" width="1" height="41" fill="#ef5350"/><rect x="636" y="147" width="9" height="33" fill="#ef5350"/><rect x="653" y="143" width="1" height="37" fill="#26a69a"/><rect x="649" y="172" width="9" height="8" fill="#26a69a"/><rect x="661" y="158" width="9" height="25" fill="#ef5350"/><rect x="678" y="174" width="1" height="37" fill="#ef5350"/><rect x="674" y="201" width="9" height="9" fill="#ef5350"/><rect x="686" y="159" width="9" height="26" fill="#26a69a"/><rect x="703" y="147" width="1" height="37" fill="#ef5350"/><rect x="699" y="155" width="9" height="14" fill="#ef5350"/><rect x="715" y="146" width="1" height="54" fill="#26a69a"/><rect x="711" y="146" width="9" height="44" fill="#26a69a"/><rect x="728" y="121" width="1" height="29" fill="#ef5350"/><rect x="724" y="121" width="9" height="26" fill="#ef5350"/><rect x="740" y="127" width="1" height="45" fill="#26a69a"/><rect x="736" y="136" width="9" height="1" fill="#26a69a"/><rect x="752" y="137" width="1" height="27" fill="#ef5350"/><rect x="748" y="143" width="9" height="20" fill="#ef5350"/><rect x="765" y="160" width="1" height="22" fill="#ef5350"/><rect x="761" y="178" width="9" height="4" fill="#ef5350"/><rect x="777" y="159" width="1" height="44" fill="#26a69a"/><rect x="773" y="179" width="9" height="24" fill="#26a69a"/><rect x="790" y="148" width="1" height="50" fill="#26a69a"/><rect x="786" y="178" width="9" height="20" fill="#26a69a"/><rect x="802" y="154" width="1" height="49" fill="#ef5350"/><rect x="798" y="154" width="9" height="30" fill="#ef5350"/><rect x="815" y="155" width="1" height="40" fill="#ef5350"/><rect x="811" y="181" width="9" height="7" fill="#ef5350"/><rect x="827" y="167" width="1" height="29" fill="#ef5350"/><rect x="823" y="167" width="9" height="19" fill="#ef5350"/><rect x="840" y="172" width="1" height="20" fill="#26a69a"/><rect x="836" y="177" width="9" height="11" fill="#26a69a"/><rect x="852" y="154" width="1" height="56" fill="#26a69a"/><rect x="848" y="175" width="9" height="35" fill="#26a69a"/><rect x="865" y="170" width="1" height="19" fill="#ef5350"/><rect x="861" y="179" width="9" height="10" fill="#ef5350"/><rect x="877" y="163" width="1" height="23" fill="#ef5350"/><rect x="873" y="168" width="9" height="4" fill="#ef5350"/><rect x="890" y="167" width="1" height="24" fill="#ef5350"/><rect x="886" y="179" width="9" height="12" fill="#ef5350"/><rect x="902" y="172" width="1" height="41" fill="#ef5350"/><rect x="898" y="172" width="9" height="40" fill="#ef5350"/><rect x="915" y="177" width="1" height="44" fill="#26a69a"/><rect x="911" y="210" width="9" height="6" fill="#26a69a"/><rect x="923" y="205" width="9" height="31" fill="#ef5350"/><rect x="940" y="224" width="1" height="31" fill="#ef5350"/><rect x="936" y="224" width="9" height="10" fill="#ef5350"/><rect x="948" y="223" width="9" height="56" fill="#ef5350"/><rect x="961" y="306" width="9" height="1" fill="#26a69a"/><rect x="973" y="324" width="9" height="1" fill="#26a69a"/><rect x="986" y="350" width="9" height="1" fill="#26a69a"/><rect x="998" y="358" width="9" height="1" fill="#26a69a"/><rect x="1015" y="303" width="1" height="60" fill="#26a69a"/><rect x="1011" y="334" width="9" height="29" fill="#26a69a"/><rect x="1023" y="331" width="9" height="60" fill="#ef5350"/><rect x="1040" y="384" width="1" height="22" fill="#26a69a"/><rect x="1036" y="405" width="9" height="1" fill="#26a69a"/><rect x="1052" y="377" width="1" height="59" fill="#26a69a"/><rect x="1048" y="435" width="9" height="1" fill="#26a69a"/><rect x="1065" y="387" width="1" height="27" fill="#ef5350"/><rect x="1061" y="387" width="9" height="4" fill="#ef5350"/><rect x="1077" y="370" width="1" height="17" fill="#ef5350"/><rect x="1073" y="383" width="9" height="3" fill="#ef5350"/><rect x="1090" y="353" width="1" height="34" fill="#ef5350"/><rect x="1086" y="353" width="9" height="16" fill="#ef5350"/><rect x="1102" y="346" width="1" height="53" fill="#ef5350"/><rect x="1098" y="346" width="9" height="31" fill="#ef5350"/><rect x="1115" y="349" width="1" height="25" fill="#ef5350"/><rect x="1111" y="368" width="9" height="1" fill="#ef5350"/><rect x="1123" y="354" width="9" height="18" fill="#ef5350"/><rect x="1140" y="358" width="1" height="9" fill="#26a69a"/><rect x="1136" y="363" width="9" height="4" fill="#26a69a"/><rect x="1152" y="366" width="1" height="30" fill="#ef5350"/><rect x="1148" y="395" width="9" height="1" fill="#ef5350"/><rect x="1160" y="383" width="9" height="34" fill="#ef5350"/><rect x="1177" y="388" width="1" height="34" fill="#ef5350"/><rect x="1173" y="401" width="9" height="12" fill="#ef5350"/><rect x="1189" y="432" width="1" height="5" fill="#ef5350"/><rect x="1185" y="433" width="9" height="4" fill="#ef5350"/><rect x="1198" y="440" width="9" height="1" fill="#26a69a"/><rect x="1210" y="442" width="9" height="1" fill="#26a69a"/><rect x="1227" y="447" width="1" height="25" fill="#26a69a"/><rect x="1223" y="471" width="9" height="1" fill="#26a69a"/><rect x="1239" y="498" width="1" height="3" fill="#26a69a"/><rect x="1235" y="500" width="9" height="1" fill="#26a69a"/><rect x="1248" y="502" width="9" height="1" fill="#26a69a"/><rect x="1260" y="502" width="9" height="1" fill="#26a69a"/><rect x="1277" y="488" width="1" height="15" fill="#26a69a"/><rect x="1273" y="493" width="9" height="10" fill="#26a69a"/><rect x="1289" y="485" width="1" height="43" fill="#ef5350"/><rect x="1285" y="512" width="9" height="6" fill="#ef5350"/><rect x="1302" y="504" width="1" height="31" fill="#ef5350"/><rect x="1298" y="528" width="9" height="7" fill="#ef5350"/><rect x="1310" y="524" width="9" height="38" fill="#ef5350"/><rect x="1327" y="550" width="1" height="28" fill="#ef5350"/><rect x="1323" y="551" width="9" height="27" fill="#ef5350"/><rect x="1335" y="552" width="9" height="47" fill="#ef5350"/><rect x="1348" y="579" width="9" height="22" fill="#ef5350"/><rect x="1360" y="600" width="9" height="1" fill="#26a69a"/><rect x="1377" y="590" width="1" height="31" fill="#ef5350"/><rect x="1373" y="619" width="9" height="2" fill="#ef5350"/><rect x="1385" y="623" width="9" height="1" fill="#26a69a"/><rect x="1402" y="576" width="1" height="50" fill="#26a69a"/><rect x="1398" y="603" width="9" height="23" fill="#26a69a"/><rect x="1414" y="579" width="1" height="20" fill="#ef5350"/><rect x="1410" y="595" width="9" height="4" fill="#ef5350"/><rect x="1427" y="584" width="1" height="28" fill="#ef5350"/><rect x="1423" y="595" width="9" height="17" fill="#ef5350"/><rect x="1439" y="600" width="1" height="30" fill="#ef5350"/><rect x="1435" y="600" width="9" height="25" fill="#ef5350"/><rect x="1452" y="605" width="1" height="43" fill="#ef5350"/><rect x="1448" y="621" width="9" height="17" fill="#ef5350"/><rect x="1464" y="606" width="1" height="40" fill="#26a69a"/><rect x="1460" y="608" width="9" height="29" fill="#26a69a"/><rect x="1477" y="596" width="1" height="48" fill="#ef5350"/><rect x="1473" y="596" width="9" height="30" fill="#ef5350"/><rect x="1489" y="627" width="1" height="29" fill="#ef5350"/><rect x="1485" y="637" width="9" height="11" fill="#ef5350"/><rect x="1502" y="601" width="1" height="54" fill="#26a69a"/><rect x="1498" y="610" width="9" height="29" fill="#26a69a"/><rect x="1514" y="596" width="1" height="46" fill="#ef5350"/><rect x="1510" y="596" width="9" height="26" fill="#ef5350"/><rect x="1527" y="615" width="1" height="36" fill="#26a69a"/><rect x="1523" y="626" width="9" height="21" fill="#26a69a"/><rect x="1539" y="629" width="1" height="23" fill="#26a69a"/><rect x="1535" y="644" width="9" height="8" fill="#26a69a"/><rect x="1551" y="660" width="1" height="4" fill="#26a69a"/><rect x="1547" y="664" width="9" height="1" fill="#26a69a"/><rect x="1564" y="656" width="1" height="33" fill="#26a69a"/><rect x="1560" y="659" width="9" height="30" fill="#26a69a"/><rect x="1572" y="644" width="9" height="17" fill="#26a69a"/><rect x="1589" y="639" width="1" height="28" fill="#ef5350"/><rect x="1585" y="639" width="9" height="9" fill="#ef5350"/><rect x="1601" y="664" width="1" height="22" fill="#ef5350"/><rect x="1597" y="664" width="9" height="4" fill="#ef5350"/><rect x="1610" y="639" width="9" height="60" fill="#26a69a"/></g><path d="M489,120.5h3v1h-1v4.5h1v1h-3v-1h1v-4.5h-1z" fill="#44ff44"/><path d="M677,161.7h3v1h-1v4.8h1v1h-3v-1h1v-4.8h-1z" fill="#ff5252"/></g><g shape-rendering="crispEdges"><rect x="1801" y="44" width="1" height="777" fill="#e0e1e4"/><rect x="7" y="793" width="1864" height="1" fill="#e0e1e4"/><rect x="1801" y="50" width="5" height="1" fill="#e0e1e4"/><rect x="1801" y="92" width="5" height="1" fill="#e0e1e4"/><rect x="1801" y="136" width="5" height="1" fill="#e0e1e4"/><rect x="1801" y="183" width="5" height="1" fill="#e0e1e4"/><rect x="1801" y="221" width="5" height="1" fill="#e0e1e4"/><rect x="1801" y="262" width="5" height="1" fill="#e0e1e4"/><rect x="1801" y="303" width="5" height="1" fill="#e0e1e4"/><rect x="1801" y="347" width="5" height="1" fill="#e0e1e4"/><rect x="1801" y="393" width="5" height="1" fill="#e0e1e4"/><rect x="1801" y="438" width="5" height="1" fill="#e0e1e4"/><rect x="1801" y="475" width="5" height="1" fill="#e0e1e4"/><rect x="1801" y="514" width="5" height="1" fill="#e0e1e4"/><rect x="1801" y="555" width="5" height="1" fill="#e0e1e4"/><rect x="1801" y="597" width="5" height="1" fill="#e0e1e4"/><rect x="1801" y="633" width="5" height="1" fill="#e0e1e4"/><rect x="1801" y="663" width="5" height="1" fill="#e0e1e4"/><rect x="1801" y="695" width="5" height="1" fill="#e0e1e4"/><rect x="1801" y="727" width="5" height="1" fill="#e0e1e4"/><rect x="1801" y="760" width="5" height="1" fill="#e0e1e4"/><rect x="1801" y="791" width="5" height="1" fill="#e0e1e4"/><rect x="128" y="794" width="1" height="4" fill="#e0e1e4"/><rect x="216" y="794" width="1" height="4" fill="#e0e1e4"/><rect x="353" y="794" width="1" height="4" fill="#e0e1e4"/><rect x="440" y="794" width="1" height="4" fill="#e0e1e4"/><rect x="603" y="794" width="1" height="4" fill="#e0e1e4"/><rect x="690" y="794" width="1" height="4" fill="#e0e1e4"/><rect x="777" y="794" width="1" height="4" fill="#e0e1e4"/><rect x="865" y="794" width="1" height="4" fill="#e0e1e4"/><rect x="1002" y="794" width="1" height="4" fill="#e0e1e4"/><rect x="1090" y="794" width="1" height="4" fill="#e0e1e4"/><rect x="1227" y="794" width="1" height="4" fill="#e0e1e4"/><rect x="1314" y="794" width="1" height="4" fill="#e0e1e4"/><rect x="1414" y="794" width="1" height="4" fill="#e0e1e4"/><rect x="1502" y="794" width="1" height="4" fill="#e0e1e4"/><rect x="1664" y="794" width="1" height="4" fill="#e0e1e4"/><rect x="1751" y="794" width="1" height="4" fill="#e0e1e4"/></g><g clip-path="url(#paxis)" font-family="Liberation Sans, Arial, sans-serif" font-size="12" fill="#131722"><text x="1811" y="49.8" dy="0.36em" textLength="47.8" lengthAdjust="spacingAndGlyphs">24000.00</text><text x="1811" y="91.8" dy="0.36em" textLength="47.8" lengthAdjust="spacingAndGlyphs">23000.00</text><text x="1811" y="135.8" dy="0.36em" textLength="47.8" lengthAdjust="spacingAndGlyphs">22000.00</text><text x="1811" y="182.8" dy="0.36em" textLength="47.8" lengthAdjust="spacingAndGlyphs">21000.00</text><text x="1811" y="220.8" dy="0.36em" textLength="47.8" lengthAdjust="spacingAndGlyphs">20200.00</text><text x="1811" y="261.8" dy="0.36em" textLength="47.8" lengthAdjust="spacingAndGlyphs">19400.00</text><text x="1811" y="302.8" dy="0.36em" textLength="47.8" lengthAdjust="spacingAndGlyphs">18600.00</text><text x="1811" y="346.8" dy="0.36em" textLength="47.8" lengthAdjust="spacingAndGlyphs">17800.00</text><text x="1811" y="392.8" dy="0.36em" textLength="47.8" lengthAdjust="spacingAndGlyphs">17000.00</text><text x="1811" y="437.8" dy="0.36em" textLength="47.8" lengthAdjust="spacingAndGlyphs">16250.00</text><text x="1811" y="474.8" dy="0.36em" textLength="47.8" lengthAdjust="spacingAndGlyphs">15650.00</text><text x="1811" y="513.8" dy="0.36em" textLength="47.8" lengthAdjust="spacingAndGlyphs">15050.00</text><text x="1811" y="554.8" dy="0.36em" textLength="47.8" lengthAdjust="spacingAndGlyphs">14450.00</text><text x="1811" y="596.8" dy="0.36em" textLength="47.8" lengthAdjust="spacingAndGlyphs">13850.00</text><text x="1811" y="632.8" dy="0.36em" textLength="47.8" lengthAdjust="spacingAndGlyphs">13350.00</text><text x="1811" y="662.8" dy="0.36em" textLength="47.8" lengthAdjust="spacingAndGlyphs">12950.00</text><text x="1811" y="694.8" dy="0.36em" textLength="47.8" lengthAdjust="spacingAndGlyphs">12550.00</text><text x="1811" y="726.8" dy="0.36em" textLength="47.8" lengthAdjust="spacingAndGlyphs">12150.00</text><text x="1811" y="759.8" dy="0.36em" textLength="47.8" lengthAdjust="spacingAndGlyphs">11750.00</text><text x="1811" y="790.8" dy="0.36em" textLength="47.8" lengthAdjust="spacingAndGlyphs">11390.00</text></g><path d="M1801,530 H1864 Q1866,530 1866,532 V545 Q1866,547 1864,547 H1801 Z" fill="#2196f3"/><rect x="1801" y="538" width="5" height="1" fill="#fff" shape-rendering="crispEdges"/><text x="1811" y="538.8" dy="0.36em" textLength="47.8" lengthAdjust="spacingAndGlyphs" font-family="Liberation Sans, Arial, sans-serif" font-size="12" fill="#fff" stroke="#fff" stroke-width="0.25">14583.37</text><path d="M1801,547 H1864 Q1866,547 1866,549 V562 Q1866,564 1864,564 H1801 Z" fill="#2196f3"/><rect x="1801" y="555" width="5" height="1" fill="#fff" shape-rendering="crispEdges"/><text x="1811" y="555.8" dy="0.36em" textLength="47.8" lengthAdjust="spacingAndGlyphs" font-family="Liberation Sans, Arial, sans-serif" font-size="12" fill="#fff" stroke="#fff" stroke-width="0.25">14450.92</text><path d="M1801,631 H1864 Q1866,631 1866,633 V646 Q1866,648 1864,648 H1801 Z" fill="#26a69a"/><rect x="1801" y="639" width="5" height="1" fill="#fff" shape-rendering="crispEdges"/><text x="1811" y="639.8" dy="0.36em" textLength="47.8" lengthAdjust="spacingAndGlyphs" font-family="Liberation Sans, Arial, sans-serif" font-size="12" fill="#fff" stroke="#fff" stroke-width="0.25">13270.00</text><path d="M1801,655 H1864 Q1866,655 1866,657 V670 Q1866,672 1864,672 H1801 Z" fill="#2196f3"/><rect x="1801" y="663" width="5" height="1" fill="#fff" shape-rendering="crispEdges"/><text x="1811" y="663.8" dy="0.36em" textLength="47.8" lengthAdjust="spacingAndGlyphs" font-family="Liberation Sans, Arial, sans-serif" font-size="12" fill="#fff" stroke="#fff" stroke-width="0.25">12960.56</text><path d="M1801,672 H1864 Q1866,672 1866,674 V687 Q1866,689 1864,689 H1801 Z" fill="#2196f3"/><rect x="1801" y="680" width="5" height="1" fill="#fff" shape-rendering="crispEdges"/><text x="1811" y="680.8" dy="0.36em" textLength="47.8" lengthAdjust="spacingAndGlyphs" font-family="Liberation Sans, Arial, sans-serif" font-size="12" fill="#fff" stroke="#fff" stroke-width="0.25">12790.04</text><g clip-path="url(#taxis)" font-family="Liberation Sans, DejaVu Sans, sans-serif" font-size="12" fill="#131722" text-anchor="middle"><text x="3.5" y="811">15</text><text x="128.5" y="811" font-weight="bold" textLength="27" lengthAdjust="spacingAndGlyphs">مارس</text><text x="216.5" y="811">10</text><text x="353.5" y="811" font-weight="bold" textLength="27" lengthAdjust="spacingAndGlyphs">آوریل</text><text x="440.5" y="811">14</text><text x="603.5" y="811" font-weight="bold" textLength="16.3" lengthAdjust="spacingAndGlyphs">می</text><text x="690.5" y="811">12</text><text x="777.5" y="811">21</text><text x="865.5" y="811" font-weight="bold" textLength="22.5" lengthAdjust="spacingAndGlyphs">ژوئن</text><text x="1002.5" y="811" font-weight="bold" textLength="17.3" lengthAdjust="spacingAndGlyphs">Jul</text><text x="1090.5" y="811">14</text><text x="1227.5" y="811" font-weight="bold" textLength="35.3" lengthAdjust="spacingAndGlyphs">آگوست</text><text x="1314.5" y="811">19</text><text x="1414.5" y="811" font-weight="bold" textLength="19.8" lengthAdjust="spacingAndGlyphs">Sep</text><text x="1502.5" y="811">14</text><text x="1664.5" y="811" font-weight="bold" textLength="21.6" lengthAdjust="spacingAndGlyphs">اکتبر</text><text x="1751.5" y="811">12</text></g><rect x="6.5" y="43.5" width="1865" height="778" fill="none" stroke="#000" stroke-width="1" shape-rendering="crispEdges"/><g fill="#131722"><path d="M6,833.3 H14.8 V844.8 H10.7 V837 H6 Z"/><circle cx="18.7" cy="835.6" r="1.9"/><path d="M22.4,833.3 H28.3 L24.6,844.8 H19 Z"/></g><text x="33.2" y="844.6" font-family="Liberation Sans, Arial, sans-serif" font-weight="bold" font-size="16.3" textLength="91.5" lengthAdjust="spacingAndGlyphs" fill="#131722">TradingView</text></svg>
</body></html>
